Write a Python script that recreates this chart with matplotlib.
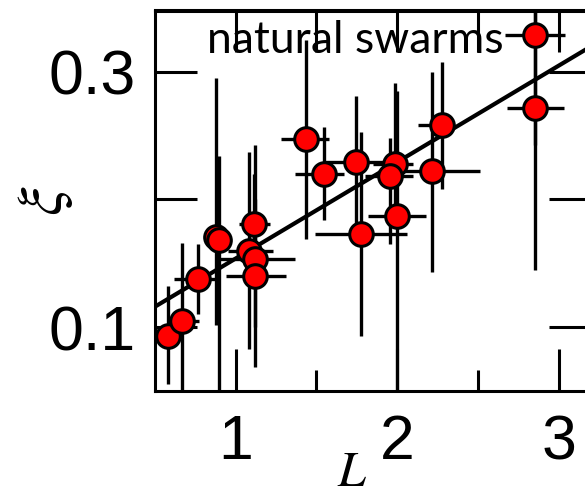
import matplotlib
matplotlib.use("Agg")
import matplotlib.pyplot as plt
import numpy as np

plt.rcParams['mathtext.fontset'] = 'stix'

# swarm size L and correlation length xi, with low/high ends of the error bars
L = [0.583, 0.668, 0.764, 0.880, 0.895, 1.116, 1.085, 1.122, 1.122, 1.432,
     1.546, 1.746, 1.776, 1.986, 1.957, 1.998, 2.218, 2.277, 2.852, 2.852]
xi = [0.093, 0.105, 0.138, 0.171, 0.168, 0.181, 0.160, 0.153, 0.140, 0.247,
      0.220, 0.2295, 0.173, 0.228, 0.218, 0.187, 0.222, 0.258, 0.329, 0.2716]
L_lo = [0.55, 0.61, 0.62, 0.85, 0.87, 1.02, 0.95, 0.90, 0.94, 1.28,
        1.37, 1.55, 1.49, 1.85, 1.80, 1.82, 1.90, 2.13, 2.665, 2.68]
L_hi = [0.62, 0.77, 0.87, 0.91, 0.92, 1.21, 1.23, 1.37, 1.31, 1.58,
        1.67, 2.02, 2.06, 2.10, 2.10, 2.18, 2.51, 2.34, 3.04, 3.03]
xi_lo = [0.0555, 0.04, 0.110, 0.102, 0.04, 0.160, 0.083, 0.069, 0.100, 0.169,
         0.184, 0.174, 0.093, 0.190, 0.165, 0.04, 0.143, 0.208, 0.243, 0.145]
xi_hi = [0.132, 0.166, 0.165, 0.295, 0.234, 0.220, 0.2375, 0.243, 0.200, 0.325,
         0.257, 0.281, 0.253, 0.291, 0.248, 0.285, 0.300, 0.308, 0.36, 0.36]

# linear fit xi = a + b*L
fit_a = 0.0783
fit_b = 0.0755

label_text = "natural swarms"


def make_plot():
    fig = plt.figure(figsize=(5.85, 4.96), dpi=100)
    ax = fig.add_axes([155 / 585, 105 / 496, 436 / 585, 380.5 / 496])

    x = np.array(L)
    y = np.array(xi)
    xerr = [x - np.array(L_lo), np.array(L_hi) - x]
    yerr = [y - np.array(xi_lo), np.array(xi_hi) - y]

    ax.errorbar(x, y, xerr=xerr, yerr=yerr, fmt='none', ecolor='black',
                elinewidth=2.4, capsize=0, zorder=2)
    xx = np.array([0.5, 3.2])
    ax.plot(xx, fit_a + fit_b * xx, color='black', lw=3, zorder=3)
    ax.plot(x, y, 'o', color='red', markeredgecolor='black',
            markeredgewidth=2.2, markersize=17, zorder=4)

    ax.set_xlim(0.5, 3.2)
    ax.set_ylim(0.05, 0.348)

    ax.set_xticks([1, 2, 3])
    ax.set_xticks([1.5, 2.5], minor=True)
    ax.set_yticks([0.1, 0.2, 0.3])
    ax.set_yticklabels(['0.1', '', '0.3'])

    for lab in ax.get_xticklabels() + ax.get_yticklabels():
        lab.set_fontfamily('Liberation Sans')
        lab.set_fontsize(45)

    ax.tick_params(which='major', direction='in', length=30, width=2.2,
                   left=True, right=True, bottom=True, top=False)
    ax.tick_params(axis='x', which='major', pad=16)
    ax.tick_params(axis='y', which='major', pad=14)
    ax.tick_params(which='minor', direction='in', length=15, width=2.2,
                   bottom=True, top=False)

    # top ticks are all long
    top = ax.secondary_xaxis('top')
    top.set_xticks([1, 1.5, 2, 2.5, 3])
    top.tick_params(direction='in', length=30, width=2.2, labeltop=False)
    top.spines['top'].set_linewidth(2.2)

    for s in ax.spines.values():
        s.set_linewidth(2.2)

    ax.set_xlabel(r'$L$', fontsize=36)
    ax.xaxis.label.set_va('center')
    ax.xaxis.set_label_coords(0.452, -0.212)
    ax.set_ylabel(r'$\xi$', fontsize=46)
    ax.yaxis.label.set_va('center')
    ax.yaxis.set_label_coords(-0.255, 0.5)

    ax.text(0.119, 0.888, label_text, transform=ax.transAxes,
            family='Lato', fontsize=32, ha='left', va='baseline')

    fig.savefig("out.png", dpi=100)
    plt.close(fig)


if __name__ == "__main__":
    make_plot()
